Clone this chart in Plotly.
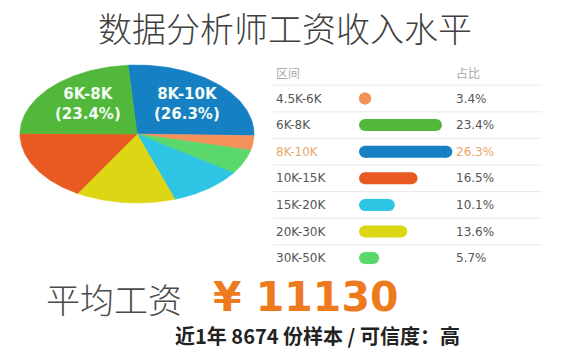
import numpy as np
import plotly.graph_objects as go

# ---- data ----
ranges = ["4.5K-6K", "6K-8K", "8K-10K", "10K-15K", "15K-20K", "20K-30K", "30K-50K"]
shares = [3.4, 23.4, 26.3, 16.5, 10.1, 13.6, 5.7]
colors = ["#f4915a", "#52b83c", "#1680c4", "#e95a22", "#2ec5e4", "#dcd614", "#5ad86c"]
pie_order = ["8K-10K", "4.5K-6K", "30K-50K", "15K-20K", "20K-30K", "10K-15K", "6K-8K"]
title = "数据分析师工资收入水平"
avg_label = "平均工资"
avg_value = "¥ 11130"
footnote = "近1年 8674 份样本 / 可信度：高"
header = ["区间", "占比"]

W, H = 579, 352
fig = go.Figure()

# ---- elliptical pie from shares ----
cx, cy, rx, ry = 137, 134, 117, 69
start = -4.4
total = sum(shares)
ang = start
for name in pie_order:
    i = ranges.index(name)
    span = shares[i] / total * 360
    t = np.radians(np.linspace(ang, ang + span, 80))
    xs = np.concatenate([[cx], cx + rx * np.sin(t), [cx]])
    ys = np.concatenate([[cy], cy - ry * np.cos(t), [cy]])
    fig.add_trace(go.Scatter(x=xs, y=ys, fill="toself", fillcolor=colors[i],
                             mode="lines", line=dict(width=0.6, color=colors[i]),
                             hoverinfo="skip", showlegend=False))
    ang += span

# pie labels
for name, px in [("6K-8K", 88), ("8K-10K", 187)]:
    i = ranges.index(name)
    lf = dict(family="DejaVu Sans", size=15, color="#f4fbf2", weight="bold")
    fig.add_annotation(x=px, y=103.5, xref="x", yref="y", showarrow=False,
                       text=f"{name}<br>({shares[i]}%)", font=lf, align="center")

# ---- table ----
row0, step = 98.5, 26.6
rows_y = [row0 + k * step for k in range(len(ranges))]
cap = 1.7  # radius of the rounded cap, in share units
for k, (r, v, c) in enumerate(zip(ranges, shares, colors)):
    y = rows_y[k]
    x0, x1 = cap, max(v - cap, cap + 0.01)
    fig.add_trace(go.Scatter(x=[x0, x1], y=[y, y], xaxis="x2", yaxis="y",
                             mode="lines+markers", line=dict(width=12, color=c),
                             marker=dict(size=12, color=c, line=dict(width=0)),
                             hoverinfo="skip", showlegend=False))
    tc = "#e9a66c" if r == "8K-10K" else "#555555"
    fig.add_annotation(x=274, y=y, xref="x", yref="y", showarrow=False, xanchor="left",
                       text=r, font=dict(family="DejaVu Sans", size=12, color=tc))
    fig.add_annotation(x=454, y=y, xref="x", yref="y", showarrow=False, xanchor="left",
                       text=f"{v}%", font=dict(family="DejaVu Sans", size=12, color=tc))

fig.add_annotation(x=274, y=72, xref="x", yref="y", showarrow=False, xanchor="left",
                   text=header[0], font=dict(family="Noto Sans CJK SC", size=12, color="#aaaaaa"))
fig.add_annotation(x=454, y=72, xref="x", yref="y", showarrow=False, xanchor="left",
                   text=header[1], font=dict(family="Noto Sans CJK SC", size=12, color="#aaaaaa"))

shapes = []
for k in range(len(ranges)):
    yl = rows_y[k] - step / 2
    shapes.append(dict(type="line", xref="x", yref="y", x0=273, x1=542, y0=yl, y1=yl,
                       line=dict(color="#e8e8e8", width=1)))

# ---- text ----
fig.add_annotation(x=285, y=27, xref="x", yref="y", showarrow=False, text=title,
                   font=dict(family="Noto Sans CJK SC", size=34, color="#404040", weight=300))
fig.add_annotation(x=44, y=298, xref="x", yref="y", showarrow=False, xanchor="left",
                   text=avg_label, font=dict(family="Noto Sans CJK SC", size=34, color="#4a4a4a", weight=300))
fig.add_annotation(x=211, y=297, xref="x", yref="y", showarrow=False, xanchor="left",
                   text=avg_value, font=dict(family="DejaVu Sans", size=41, color="#ee7a1e", weight="bold"))
fig.add_annotation(x=317, y=335, xref="x", yref="y", showarrow=False,
                   text=footnote, font=dict(family="Noto Sans CJK SC", size=20, color="#222222", weight="bold"))

fig.update_layout(
    width=W, height=H, autosize=False,
    margin=dict(l=0, r=0, t=0, b=0),
    paper_bgcolor="white", plot_bgcolor="white",
    xaxis=dict(range=[0, W], visible=False, fixedrange=True),
    yaxis=dict(range=[H, 0], visible=False, fixedrange=True),
    xaxis2=dict(range=[0, 60], domain=[359 / W, (359 + 60 * 3.55) / W], anchor="y",
                visible=False, fixedrange=True),
    shapes=shapes,
)
fig.write_html("out.html")
